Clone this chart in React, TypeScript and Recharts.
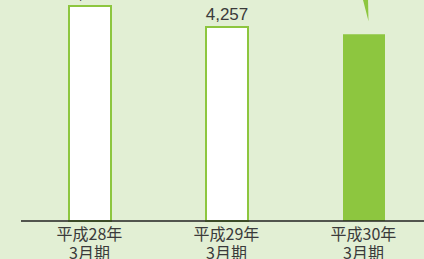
import React from "react";
import { BarChart, Bar, XAxis, YAxis, Cell, LabelList } from "recharts";

const categories = ["平成28年|3月期", "平成29年|3月期", "平成30年|3月期"];
const values = [4720, 4257, 4100];
const showLabel = [true, true, false];

const data = categories.map((c, i) => ({ name: c, value: values[i], idx: i }));

const GREEN = "#8dc63f";
const BG = "#e2efd4";

const Tick = (props: any) => {
  const { x, y, payload } = props;
  const [l1, l2] = String(payload.value).split("|");
  return (
    <g>
      <text x={x} y={y + 11} textAnchor="middle" fontSize={16} fill="#3a3a3a" fontFamily="'Noto Sans CJK JP', sans-serif">
        {l1}
      </text>
      <text x={x} y={y + 29.5} textAnchor="middle" fontSize={16} fill="#3a3a3a" fontFamily="'Noto Sans CJK JP', sans-serif">
        {l2}
      </text>
    </g>
  );
};

const TopLabel = (props: any) => {
  const { x, y, width, index, value } = props;
  if (!showLabel[index]) {
    return (
      <polygon
        points={`${x + width / 2 - 1.5},-2 ${x + width / 2 + 4},-2 ${x + width / 2 + 4.5},${y - 13}`}
        fill={GREEN}
      />
    );
  }
  return (
    <text x={x + width / 2} y={y - 7} textAnchor="middle" fontSize={17} fill="#3a3a3a" fontFamily="'Liberation Sans', Arial, sans-serif">
      {Number(value).toLocaleString("en-US")}
    </text>
  );
};

export default function App() {
  return (
    <div style={{ position: "absolute", left: 0, top: 0, width: 424, height: 259, overflow: "hidden", background: BG }}>
      <BarChart width={432} height={259} data={data} margin={{ top: 0, right: 0, left: 21, bottom: 0 }}>
        <XAxis
          dataKey="name"
          height={38}
          tickLine={false}
          axisLine={{ stroke: "#222", strokeWidth: 1.3 }}
          tick={<Tick />}
          interval={0}
        />
        <YAxis hide domain={[0, 4850]} />
        <Bar dataKey="value" barSize={42} isAnimationActive={false} strokeWidth={2}>
          {data.map((d, i) => (
            <Cell key={i} fill={i === 2 ? GREEN : "#ffffff"} stroke={GREEN} strokeWidth={i === 2 ? 0 : 2} />
          ))}
          <LabelList dataKey="value" content={<TopLabel />} />
        </Bar>
      </BarChart>
    </div>
  );
}
